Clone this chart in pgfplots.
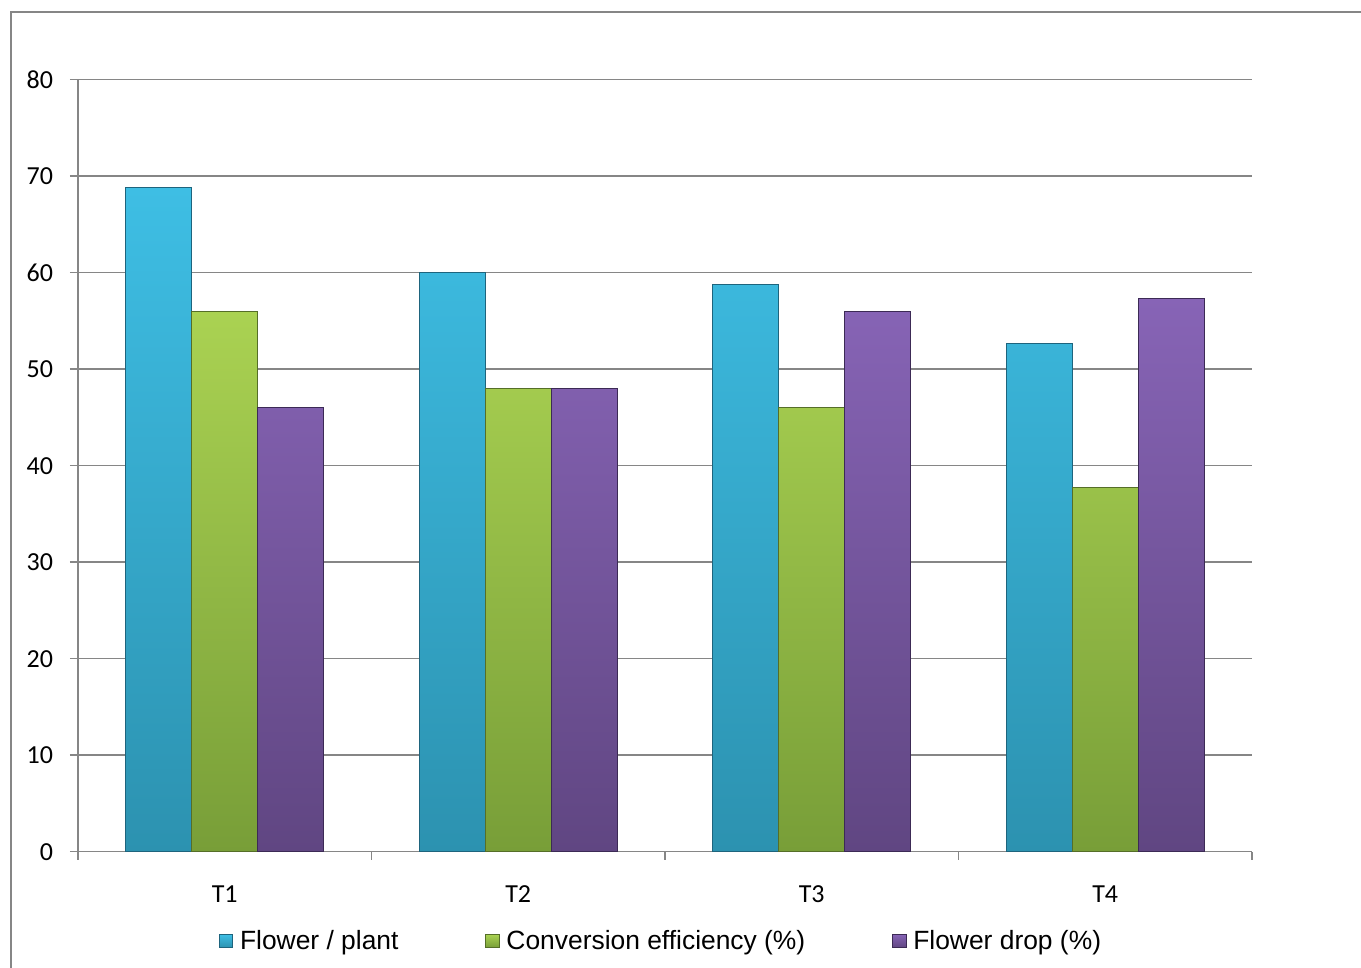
\documentclass[border=0pt]{standalone}
\usepackage{pgfplots}
\pgfplotsset{compat=1.18}
\usepackage{fontspec}
\setmainfont{Carlito}
\newfontfamily\legfont{Liberation Sans}
\definecolor{bluetop}{RGB}{62,190,228}
\definecolor{bluebot}{RGB}{44,146,176}
\definecolor{blueedge}{RGB}{30,100,125}
\definecolor{greentop}{RGB}{170,210,82}
\definecolor{greenbot}{RGB}{120,158,56}
\definecolor{greenedge}{RGB}{85,110,40}
\definecolor{purptop}{RGB}{135,100,182}
\definecolor{purpbot}{RGB}{96,70,130}
\definecolor{purpedge}{RGB}{60,42,85}
\definecolor{gridgray}{RGB}{134,134,134}
\begin{document}
\begin{tikzpicture}
\begin{axis}[
  at={(0,0)}, anchor=south west,
  width=587pt, height=386pt, scale only axis,
  ybar=0pt, bar width=0.225,
  xmin=0.5, xmax=4.5, ymin=0, ymax=80,
  ytick={0,10,...,80},
  xtick={0.5,1.5,2.5,3.5,4.5},
  x tick label as interval,
  xticklabels={T1,T2,T3,T4},
  axis x line*=bottom, axis y line*=left,
  axis line style={draw=gridgray, line width=0.8pt, -},
  tick align=outside, major tick length=4pt,
  tick style={draw=gridgray, line width=0.8pt},
  ymajorgrids, major grid style={draw=gridgray, line width=0.8pt},
  /pgf/number format/assume math mode=true,
  tick label style={font=\fontsize{13}{15}\selectfont},
  yticklabel style={xshift=-5pt},
  xticklabel style={yshift=-9.5pt},
  legend columns=3,
  legend style={at={(0.4975,-0.1157)}, anchor=center, draw=none, fill=none,
    font=\legfont\fontsize{13.2}{15}\selectfont,
    /tikz/every even column/.append style={column sep=41.5pt},
    /tikz/every odd column/.append style={column sep=1.5pt}},
  legend image code/.code={\path[#1] (0pt,-3.3pt) rectangle (6.6pt,3.3pt);},
]
\addplot[draw=blueedge, line width=0.4pt, top color=bluetop, bottom color=bluebot]
  coordinates {(1,68.8) (2,60.0) (3,58.8) (4,52.7)};
\addplot[draw=greenedge, line width=0.4pt, top color=greentop, bottom color=greenbot]
  coordinates {(1,56.0) (2,48.0) (3,46.0) (4,37.7)};
\addplot[draw=purpedge, line width=0.4pt, top color=purptop, bottom color=purpbot]
  coordinates {(1,46.0) (2,48.0) (3,56.0) (4,57.3)};
\legend{Flower / plant, Conversion efficiency (\%), Flower drop (\%)}
\end{axis}
\draw[gridgray, line width=1pt] (-33.5pt,-70pt) -- (-33.5pt,419.85pt) -- (660pt,419.85pt);
\pgfresetboundingbox
\path (-39pt,-58.15pt) rectangle (641.5pt,425.85pt);
\end{tikzpicture}
\end{document}
